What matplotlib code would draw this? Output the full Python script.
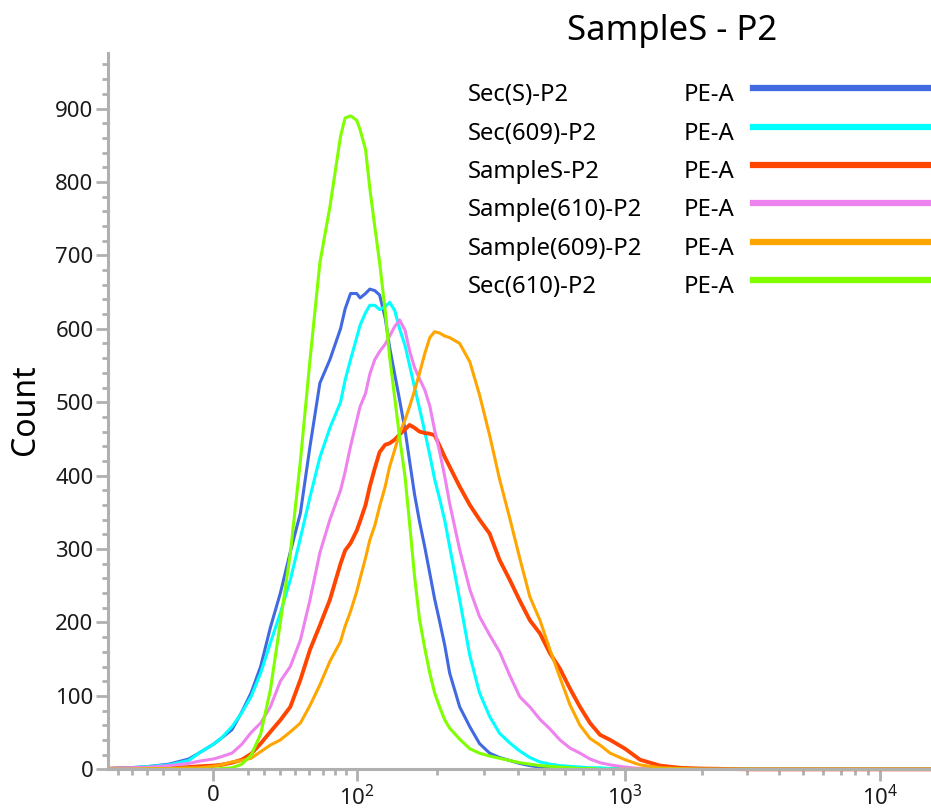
#!/usr/bin/env python

import numpy as np
import matplotlib
matplotlib.use("Agg")
import matplotlib.pyplot as plt
from matplotlib.lines import Line2D

plt.rcParams['font.family'] = ['Noto Sans', 'DejaVu Sans']
plt.rcParams['mathtext.fontset'] = 'custom'
plt.rcParams['mathtext.rm'] = 'Noto Sans'

# histogram channels (PE-A intensity) shared by all samples
pe_a = [-66, -52, -38, -26, -13.5, -7.6, 0, 4, 10, 16, 22, 28, 34, 40.5, 47, 54, 61, 68, 76, 85,
        89, 94, 100, 103, 108, 112, 117, 122, 128, 133, 139, 145, 152, 158, 165, 172, 180, 188,
        196, 205, 214, 223, 243, 265, 288, 314, 342, 373, 406, 443, 483, 526, 573, 624, 680, 741,
        807, 880, 1000, 1145, 1372, 1643, 1968, 3092, 4857, 7626, 11980, 15850]

sec_s = [1, 2, 4, 7, 14, 22, 34, 42, 54, 78, 104, 140, 193, 240, 296, 349, 440, 526, 558, 600,
         627, 648, 648, 642, 648, 654, 652, 646, 615, 575, 538, 503, 462, 420, 374, 338, 303, 267,
         232, 200, 168, 131, 85, 58, 35, 22, 16, 12, 8, 5, 3, 2, 1, 1, 1, 0,
         0, 0, 0, 0, 0, 0, 0, 0, 0, 0, 0, 0]
sec_609 = [1, 2, 4, 6, 12, 22, 34, 42, 58, 77, 99, 131, 172, 213, 258, 315, 371, 425, 465, 500,
           530, 558, 588, 605, 622, 632, 632, 626, 630, 636, 625, 600, 577, 550, 520, 492, 460, 428,
           395, 367, 338, 303, 231, 155, 104, 72, 49, 36, 25, 16, 10, 7, 5, 4, 3, 2,
           2, 1, 1, 1, 0, 0, 0, 0, 0, 0, 0, 0]
sample_s = [1, 1, 2, 2, 3, 4, 5, 6, 9, 13, 21, 35, 51, 67, 85, 122, 163, 196, 231, 280,
            298, 308, 325, 338, 360, 385, 410, 432, 442, 444, 449, 456, 463, 469, 465, 460, 458, 457,
            455, 440, 425, 412, 385, 360, 340, 321, 285, 258, 230, 203, 185, 158, 137, 110, 85, 63,
            47, 40, 28, 13, 5, 2, 1, 0, 0, 0, 0, 0]
sample_610 = [1, 2, 3, 5, 8, 11, 14, 17, 22, 34, 50, 63, 85, 120, 140, 176, 231, 295, 340, 380,
              405, 440, 475, 494, 512, 538, 558, 569, 579, 590, 603, 612, 598, 570, 547, 532, 517, 495,
              462, 431, 398, 362, 299, 245, 208, 183, 160, 128, 99, 85, 68, 55, 40, 29, 22, 14,
              9, 6, 3, 1, 1, 0, 0, 0, 0, 0, 0, 0]
sample_609 = [0, 0, 1, 1, 2, 2, 4, 6, 10, 12, 15, 24, 33, 40, 51, 63, 87, 115, 147, 174,
              195, 215, 242, 260, 288, 312, 332, 358, 385, 412, 435, 458, 476, 494, 516, 539, 566, 588,
              596, 594, 590, 588, 580, 555, 510, 455, 395, 342, 288, 235, 203, 163, 125, 88, 60, 42,
              33, 22, 13, 6, 2, 1, 0, 0, 0, 0, 0, 0]
sec_610 = [0, 0, 0, 0, 0, 0, 0, 1, 2, 7, 19, 48, 108, 200, 294, 420, 558, 690, 766, 862,
           887, 890, 884, 871, 844, 792, 739, 690, 625, 562, 506, 452, 398, 335, 262, 205, 165, 131,
           104, 84, 67, 56, 41, 28, 22, 18, 15, 12, 9, 7, 5, 4, 3, 2, 1, 1,
           0, 0, 0, 0, 0, 0, 0, 0, 0, 0, 0, 0]

names = ['Sec(S)-P2', 'Sec(609)-P2', 'SampleS-P2', 'Sample(610)-P2', 'Sample(609)-P2', 'Sec(610)-P2']
series = [sec_s, sec_609, sample_s, sample_610, sample_609, sec_610]
colors = ['#4169E1', '#00FFFF', '#FF4500', '#EE82EE', '#FFA500', '#7FFF00']
widths = [2.2, 2.2, 2.8, 2.2, 2.2, 2.2]

# biexponential-like axis: linear-ish around zero, log above 100
ANCHOR_VALS = np.array([0, 20, 30, 40, 50, 60, 70, 80, 90, 100, 1e3, 1e4, 1e5])
ANCHOR_POS = np.array([0, 34.3, 50.3, 66.3, 81.3, 95.3, 109.3, 121.3, 133, 143.5, 412, 667, 922])
scale_vals = np.concatenate([-ANCHOR_VALS[:0:-1], ANCHOR_VALS])
scale_pos = np.concatenate([-ANCHOR_POS[:0:-1], ANCHOR_POS])
scale_k = np.arcsinh(scale_vals / 20.0)


def biex_forward(x):
    return np.interp(np.arcsinh(np.asarray(x, dtype=float) / 20.0), scale_k, scale_pos)


def biex_inverse(u):
    return 20.0 * np.sinh(np.interp(np.asarray(u, dtype=float), scale_pos, scale_k))


fig = plt.figure(figsize=(9.31, 8.10), dpi=100)
ax = fig.add_axes([108 / 931, 40.7 / 810, 823 / 931, 716.6 / 810])
ax.set_xscale('function', functions=(biex_forward, biex_inverse))

for name, counts, c, lw in zip(names, series, colors, widths):
    ax.plot(pe_a, counts, color=c, lw=lw, clip_on=False, solid_joinstyle='round')

ax.set_xlim(-67, 15850)
ax.set_ylim(0, 976)

# ticks
major_x = [0, 100, 1000, 10000]
minor_x = [v for v in range(-60, 0, 10) if v != -10] + [v for v in range(20, 100, 10)] \
    + list(range(200, 1000, 100)) + list(range(2000, 10000, 1000))
ax.set_xticks(major_x)
ax.set_xticklabels(['0', r'$\mathregular{10^2}$', r'$\mathregular{10^3}$', r'$\mathregular{10^4}$'])
ax.set_xticks(minor_x, minor=True)
ax.set_yticks(range(0, 901, 100))
ax.set_yticks(range(0, 976, 20), minor=True)

gray = '#b0b0b0'
for side in ['top', 'right']:
    ax.spines[side].set_visible(False)
for side in ['left', 'bottom']:
    ax.spines[side].set_color(gray)
    ax.spines[side].set_linewidth(2.2)
ax.tick_params(which='major', length=8.5, width=2, color=gray, labelsize=16, labelcolor='#1a1a1a')
ax.tick_params(which='minor', length=4.5, width=2, color=gray)
ax.tick_params(axis='y', which='major', pad=2)
ax.tick_params(axis='x', which='major', pad=3)

fig.text(25 / 931, 1 - 410 / 810, 'Count', rotation=90, ha='center', va='center', fontsize=23)
fig.text(672 / 931, 1 - 31 / 810, 'SampleS - P2', ha='center', va='center', fontsize=25)

# legend drawn as a table: name, parameter, line swatch
for i, (name, c) in enumerate(zip(names, colors)):
    y_line = 88.3 + i * 38.34
    y_text = 1 - (y_line + 13) / 810
    fig.text(468 / 931, y_text, name, ha='left', va='baseline', fontsize=17.2)
    fig.text(684 / 931, y_text, 'PE-A', ha='left', va='baseline', fontsize=17.2)
    fig.add_artist(Line2D([753 / 931, 928 / 931], [1 - y_line / 810] * 2,
                          color=c, lw=4.5, transform=fig.transFigure))

fig.savefig('out.png', dpi=100)
